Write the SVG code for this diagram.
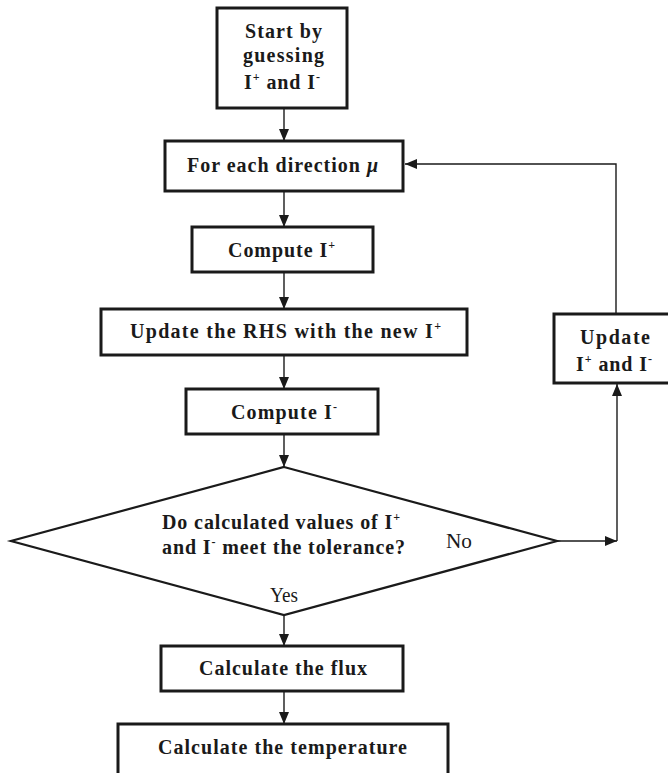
<svg xmlns="http://www.w3.org/2000/svg" width="668" height="773" viewBox="0 0 668 773">
<style>
.box{fill:#fff;stroke:#1a1a1a;stroke-width:3}
.dia{fill:#fff;stroke:#1a1a1a;stroke-width:2.2}
.t{font-family:"Liberation Serif","Times New Roman",serif;font-weight:bold;font-size:20px;fill:#1a1a1a}
.r{font-family:"Liberation Serif","Times New Roman",serif;font-size:20px;fill:#1a1a1a}
.sup{font-size:12px}
.c{fill:none;stroke:#1a1a1a;stroke-width:1.4}
</style>
<defs>
<marker id="ah" viewBox="0 0 12 10" refX="12" refY="5" markerWidth="12" markerHeight="10" markerUnits="userSpaceOnUse" orient="auto">
<path d="M0,0 L12,5 L0,10 z" fill="#1a1a1a"/>
</marker>
</defs>
<rect width="668" height="773" fill="#fff"/>
<g id="connectors">
<path class="c" d="M284,108 V141" marker-end="url(#ah)"/>
<path class="c" d="M284,191 V227" marker-end="url(#ah)"/>
<path class="c" d="M284,272 V309" marker-end="url(#ah)"/>
<path class="c" d="M284,355 V389" marker-end="url(#ah)"/>
<path class="c" d="M284,434 V467" marker-end="url(#ah)"/>
<path class="c" d="M284,615 V646" marker-end="url(#ah)"/>
<path class="c" d="M284,691 V724" marker-end="url(#ah)"/>
<path class="c" d="M616,314 V164 H405" marker-end="url(#ah)"/>
<path class="c" d="M557,541 H617" marker-end="url(#ah)"/>
<path class="c" d="M617,541 V384" marker-end="url(#ah)"/>
</g>
<g id="start">
<rect class="box" x="217" y="8" width="130" height="100"/>
<text class="t" x="245" y="38" textLength="77">Start by</text>
<text class="t" x="243" y="62" textLength="81">guessing</text>
<text class="t" x="244" y="89" textLength="76">I<tspan class="sup" dy="-8">+</tspan><tspan dy="8"> and I</tspan><tspan class="sup" dy="-8">-</tspan></text>
</g>
<g id="foreach">
<rect class="box" x="165" y="141" width="238" height="50"/>
<text class="t" x="187" y="172" textLength="191">For each direction <tspan font-style="italic">μ</tspan></text>
</g>
<g id="computeplus">
<rect class="box" x="192" y="227" width="181" height="45"/>
<text class="t" x="228" y="257" textLength="107">Compute I<tspan class="sup" dy="-8">+</tspan></text>
</g>
<g id="updaterhs">
<rect class="box" x="101" y="309" width="366" height="46"/>
<text class="t" x="130" y="338" textLength="311">Update the RHS with the new I<tspan class="sup" dy="-8">+</tspan></text>
</g>
<g id="computeminus">
<rect class="box" x="186" y="389" width="192" height="45"/>
<text class="t" x="231" y="419" textLength="106">Compute I<tspan class="sup" dy="-8">-</tspan></text>
</g>
<g id="decision">
<polygon class="dia" points="284,467 557,541 284,615 11,541"/>
<text class="t" x="162" y="529" textLength="238">Do calculated values of I<tspan class="sup" dy="-8">+</tspan></text>
<text class="t" x="162" y="554" textLength="243">and I<tspan class="sup" dy="-8">-</tspan><tspan dy="8"> meet the tolerance?</tspan></text>
</g>
<g id="labels">
<text class="r" x="446" y="548" textLength="26" lengthAdjust="spacingAndGlyphs">No</text>
<text class="r" x="270" y="602" textLength="28" lengthAdjust="spacingAndGlyphs">Yes</text>
</g>
<g id="updateI">
<rect class="box" x="554" y="314" width="120" height="69"/>
<text class="t" x="580" y="344" textLength="70">Update</text>
<text class="t" x="576" y="371" textLength="76">I<tspan class="sup" dy="-8">+</tspan><tspan dy="8"> and I</tspan><tspan class="sup" dy="-8">-</tspan></text>
</g>
<g id="flux">
<rect class="box" x="161" y="646" width="242" height="45"/>
<text class="t" x="199" y="675" textLength="168">Calculate the flux</text>
</g>
<g id="temperature">
<rect class="box" x="118" y="724" width="330" height="80"/>
<text class="t" x="158" y="754" textLength="249">Calculate the temperature</text>
</g>
</svg>
